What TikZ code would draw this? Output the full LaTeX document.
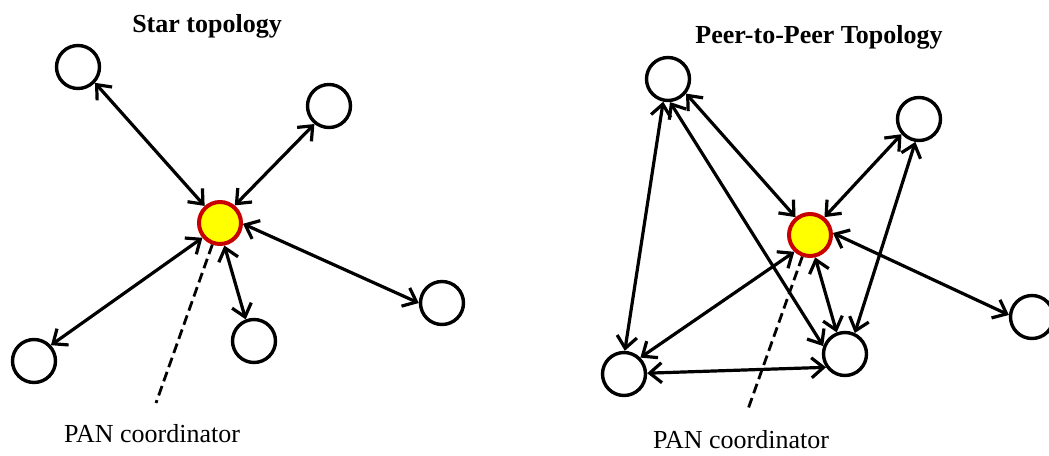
\documentclass[tikz,border=0pt]{standalone}
\usepackage{fontspec}
\setmainfont{Liberation Serif}
\usetikzlibrary{arrows.meta}
\definecolor{coordred}{RGB}{200,0,0}
\definecolor{coordyellow}{RGB}{255,255,0}
\tikzset{
  device/.style={circle, draw=black, line width=3.4pt, minimum size=43pt, inner sep=0pt, fill=white},
  pancoord/.style={circle, draw=coordred, line width=4pt, fill=coordyellow, minimum size=42pt, inner sep=0pt},
  link/.style={line width=3.2pt,
    {Straight Barb[length=12pt,width=20pt]}-{Straight Barb[length=12pt,width=20pt]}},
  pointer/.style={line width=2.8pt, dash pattern=on 10pt off 5pt},
  heading/.style={font=\fontsize{26}{30}\selectfont\bfseries, anchor=base, inner sep=0pt},
  caption/.style={font=\fontsize{26}{30}\selectfont, anchor=base, inner sep=0pt}
}
\begin{document}
\begin{tikzpicture}[x=1pt, y=-1pt]
\useasboundingbox (0,0) rectangle (1049,455);

% ---------- Star topology ----------
\node[heading] (startitle) at (207,32) {Star topology};
\node[pancoord] (s0) at (220,223) {};
\node[device] (s1) at (78,67) {};
\node[device] (s2) at (329,106) {};
\node[device] (s3) at (442,303) {};
\node[device] (s4) at (254,341) {};
\node[device] (s5) at (34,361) {};
\draw[link] (s0.132) -- (s1.-43);
\draw[link] (s0.50) -- (s2.-129);
\draw[link] (s0.-2) -- (s3.180);
\draw[link] (s0.-79) -- (s4.111);
\draw[link] (s0.-140) -- (s5.43);
\coordinate (sdash) at (156,403);
\draw[pointer] (s0) -- (sdash);
\node[caption] (slabel) at (152,442) {PAN coordinator};

% ---------- Peer-to-peer topology ----------
\node[heading] (p2ptitle) at (819,43) {Peer-to-Peer Topology};
\node[pancoord] (p0) at (810,235) {};
\node[device] (pa) at (668,79) {};
\node[device] (pb) at (919,119) {};
\node[device] (pc) at (1032,317) {};
\node[device] (pd) at (845,354) {};
\node[device] (pe) at (624,374) {};
\draw[link] (p0.129) -- (pa.-39);
\draw[link] (p0.51) -- (pb.-139);
\draw[link] (p0.5) -- (pc.175);
\draw[link] (p0.-77) -- (pd.111);
\draw[link] (p0.-133) -- (pe.45);
\draw[link] (pa.-102) -- (pe.88);
\draw[link] (pa.-85) -- (pd.160);
\draw[link] (pb.-99) -- (pd.65);
\draw[link] (pe.2) -- (pd.-145);
\coordinate (pdash) at (747,412);
\draw[pointer] (p0) -- (pdash);
\node[caption] (plabel) at (741,448) {PAN coordinator};
\end{tikzpicture}
\end{document}
